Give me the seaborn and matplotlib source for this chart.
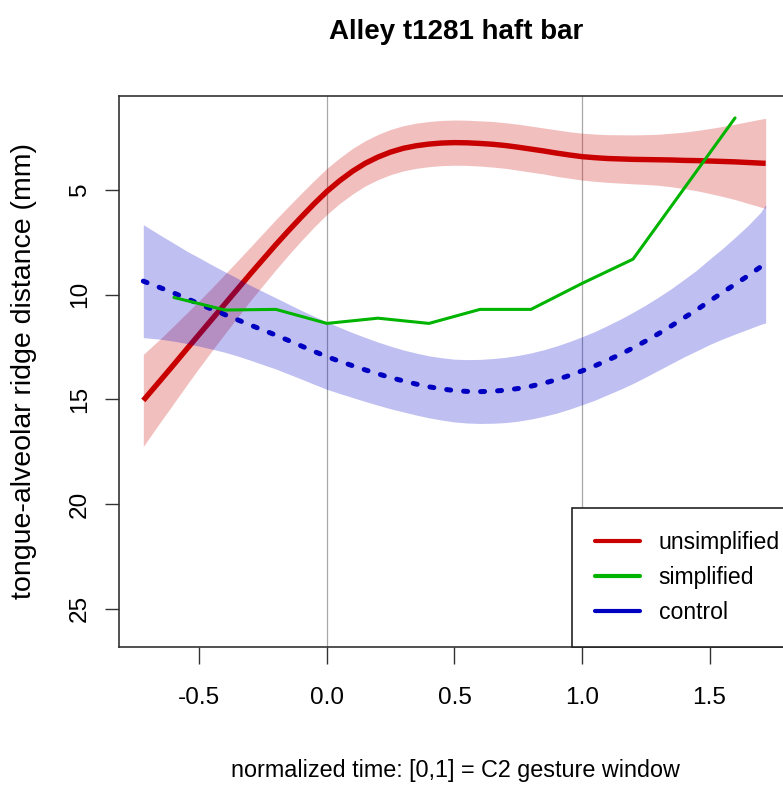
import numpy as np
import pandas as pd
import matplotlib
matplotlib.use("Agg")
import matplotlib.pyplot as plt
import seaborn as sns
from matplotlib.lines import Line2D

# ---------------- data ----------------
title = "Alley t1281 haft bar"
xlabel = "normalized time: [0,1] = C2 gesture window"
ylabel = "tongue-alveolar ridge distance (mm)"

time_grid = [-0.72, -0.65, -0.60, -0.55, -0.50, -0.45, -0.40, -0.35, -0.30, -0.25,
             -0.20, -0.15, -0.10, -0.05, 0.00, 0.05, 0.10, 0.15, 0.20, 0.25,
             0.30, 0.35, 0.40, 0.45, 0.50, 0.55, 0.60, 0.65, 0.70, 0.75,
             0.80, 0.85, 0.90, 0.95, 1.00, 1.05, 1.10, 1.15, 1.20, 1.25,
             1.30, 1.35, 1.40, 1.45, 1.50, 1.55, 1.60, 1.65, 1.70, 1.72]

unsimplified_mean = [15.05, 14.05, 13.33, 12.60, 11.88, 11.16, 10.44, 9.72, 9.00, 8.30,
                     7.60, 6.93, 6.28, 5.65, 5.06, 4.55, 4.10, 3.72, 3.42, 3.18,
                     3.00, 2.88, 2.80, 2.75, 2.73, 2.74, 2.77, 2.81, 2.87, 2.95,
                     3.04, 3.13, 3.23, 3.32, 3.40, 3.45, 3.49, 3.51, 3.53, 3.54,
                     3.55, 3.56, 3.58, 3.59, 3.61, 3.63, 3.65, 3.68, 3.71, 3.72]
unsimplified_halfwidth = [2.20, 1.98, 1.85, 1.72, 1.60, 1.50, 1.42, 1.35, 1.28, 1.24,
                          1.20, 1.16, 1.13, 1.11, 1.10, 1.09, 1.09, 1.08, 1.08, 1.08,
                          1.08, 1.08, 1.08, 1.08, 1.08, 1.08, 1.08, 1.09, 1.09, 1.10,
                          1.10, 1.10, 1.11, 1.11, 1.12, 1.13, 1.14, 1.155, 1.17, 1.19,
                          1.22, 1.28, 1.35, 1.44, 1.55, 1.67, 1.80, 1.95, 2.10, 2.15]

control_mean = [9.35, 9.68, 9.92, 10.18, 10.44, 10.70, 10.95, 11.20, 11.45, 11.69,
                11.93, 12.19, 12.45, 12.71, 12.96, 13.18, 13.39, 13.59, 13.78, 13.96,
                14.12, 14.27, 14.40, 14.50, 14.58, 14.62, 14.63, 14.61, 14.56, 14.48,
                14.37, 14.23, 14.06, 13.86, 13.64, 13.40, 13.13, 12.85, 12.54, 12.21,
                11.86, 11.49, 11.10, 10.72, 10.30, 9.90, 9.50, 9.10, 8.67, 8.50]
control_band_above = [2.70, 2.50, 2.38, 2.27, 2.20, 2.12, 2.05, 1.98, 1.90, 1.84,
                      1.78, 1.74, 1.70, 1.68, 1.66, 1.62, 1.58, 1.55, 1.52, 1.50,
                      1.48, 1.48, 1.48, 1.49, 1.50, 1.52, 1.54, 1.56, 1.57, 1.58,
                      1.59, 1.60, 1.61, 1.62, 1.63, 1.64, 1.66, 1.68, 1.70, 1.72,
                      1.75, 1.78, 1.83, 1.90, 2.00, 2.10, 2.24, 2.40, 2.60, 2.80]
control_band_below = [2.70, 2.45, 2.30, 2.15, 2.02, 1.90, 1.80, 1.73, 1.68, 1.65,
                      1.62, 1.60, 1.58, 1.57, 1.56, 1.54, 1.52, 1.51, 1.50, 1.49,
                      1.48, 1.48, 1.48, 1.49, 1.50, 1.51, 1.52, 1.53, 1.55, 1.56,
                      1.57, 1.58, 1.60, 1.61, 1.62, 1.64, 1.65, 1.67, 1.70, 1.72,
                      1.75, 1.80, 1.87, 1.96, 2.08, 2.22, 2.38, 2.55, 2.75, 2.85]

simplified_time = [-0.6, -0.4, -0.2, 0.0, 0.2, 0.4, 0.6, 0.8, 1.0, 1.2, 1.6]
simplified_vals = [10.13, 10.73, 10.7, 11.37, 11.12, 11.37, 10.7, 10.7, 9.46, 8.3, 1.55]

xticks = [-0.5, 0.0, 0.5, 1.0, 1.5]
xticklabels = ["-0.5", "0.0", "0.5", "1.0", "1.5"]
yticks = [5, 10, 15, 20, 25]
yticklabels = ["5", "10", "15", "20", "25"]
ref_lines = [0.0, 1.0]
legend_labels = ["unsimplified", "simplified", "control"]

# ---------------- styling ----------------
sns.set_style("white")
plt.rcParams["font.family"] = ["Liberation Sans", "DejaVu Sans"]
plt.rcParams["text.color"] = "black"
plt.rcParams["axes.labelcolor"] = "black"
plt.rcParams["xtick.color"] = "black"
plt.rcParams["ytick.color"] = "black"

RED = "#C80000"
GREEN = "#00B400"
BLUE = "#0000C0"
RED_BAND = "#CD0000"
BLUE_BAND = "#0000CD"

u_mean = np.array(unsimplified_mean)
u_hw = np.array(unsimplified_halfwidth)
c_mean = np.array(control_mean)
df_u = pd.DataFrame({"t": time_grid, "y": u_mean,
                     "lo": u_mean - u_hw, "hi": u_mean + u_hw})
df_c = pd.DataFrame({"t": time_grid, "y": c_mean,
                     "lo": c_mean - np.array(control_band_above),
                     "hi": c_mean + np.array(control_band_below)})
df_s = pd.DataFrame({"t": simplified_time, "y": simplified_vals})

fig = plt.figure(figsize=(7.83, 7.86), dpi=100)
ax = fig.add_axes([0.1524, 0.1772, 0.859, 0.701])

for xv in ref_lines:
    ax.axvline(xv, color="#A8A8A8", lw=0.9, zorder=0.5)

# unsimplified: band + line
ax.fill_between(df_u["t"], df_u["lo"], df_u["hi"], color=RED_BAND, alpha=0.25,
                lw=0, zorder=1)
sns.lineplot(data=df_u, x="t", y="y", ax=ax, color=RED, lw=3.9, sort=False,
             estimator=None, zorder=2, solid_capstyle="butt")
# control: band + dotted line
ax.fill_between(df_c["t"], df_c["lo"], df_c["hi"], color=BLUE_BAND, alpha=0.25,
                lw=0, zorder=3)
sns.lineplot(data=df_c, x="t", y="y", ax=ax, color=BLUE, lw=3.6, sort=False,
             estimator=None, zorder=4, linestyle=(0, (0.8, 2.6)),
             dash_capstyle="round")
# simplified: raw polyline
sns.lineplot(data=df_s, x="t", y="y", ax=ax, color=GREEN, lw=2.2, sort=False,
             estimator=None, zorder=5)

ax.set_xlim(-0.814, 1.823)
ax.set_ylim(26.82, 0.49)

ax.set_xticks(xticks)
ax.set_xticklabels(xticklabels, fontsize=17.6)
ax.set_yticks(yticks)
ax.set_yticklabels(yticklabels, fontsize=17.6, rotation=90, va="center")
ax.tick_params(axis="x", direction="out", length=12.2, width=1.0, color="#333333",
               pad=17, bottom=True)
ax.tick_params(axis="y", direction="out", length=9.8, width=1.0, color="#333333",
               pad=10.5, left=True)

for side in ["left", "bottom", "top", "right"]:
    ax.spines[side].set_color("#333333")
    ax.spines[side].set_linewidth(1.2)

ax.set_xlabel(xlabel, fontsize=16.8)
ax.xaxis.set_label_coords(0.5, -0.2238)
ax.xaxis.label.set_va("center")
ax.set_ylabel(ylabel, fontsize=20.5)
ax.yaxis.set_label_coords(-0.1417, 0.5)
ax.yaxis.label.set_va("center")

ax.set_title(title, fontsize=20, fontweight="bold", pad=41)

handles = [Line2D([], [], color=RED, lw=3.0),
           Line2D([], [], color=GREEN, lw=3.0),
           Line2D([], [], color=BLUE, lw=3.0)]
leg = ax.legend(handles, legend_labels, loc="lower left", bbox_to_anchor=(0.673, 0.0),
                borderaxespad=0, fancybox=False, framealpha=1, edgecolor="#222222",
                prop={"size": 16.6}, handlelength=1.96,
                handletextpad=0.8, borderpad=1.0, labelspacing=0.51)
leg.get_frame().set_linewidth(1.2)

fig.savefig("out.png", dpi=100)
